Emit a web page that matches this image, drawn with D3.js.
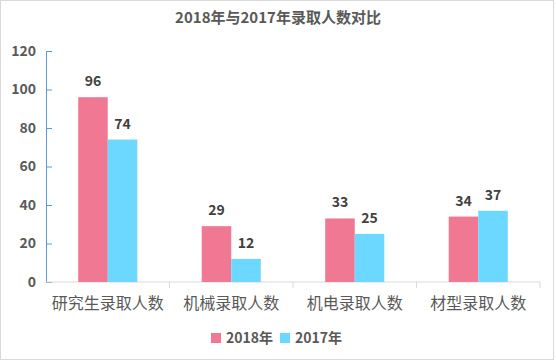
<!DOCTYPE html>
<html>
<head>
<meta charset="utf-8">
<script src="https://cdn.jsdelivr.net/npm/d3@7"></script>
<style>
  body { margin: 0; background: #fff; }
  text { font-family: "Noto Sans CJK SC", "Open Sans", sans-serif; }
</style>
</head>
<body>
<div id="chart"></div>
<script>
const categories = ["研究生录取人数", "机械录取人数", "机电录取人数", "材型录取人数"];
const seriesNames = ["2018年", "2017年"];
const values2018 = [96, 29, 33, 34];
const values2017 = [74, 12, 25, 37];
const yTicks = [0, 20, 40, 60, 80, 100, 120];
const colors = ["#F07893", "#6DD8FF"];

const width = 556;
const height = 362;
const margin = { top: 51, right: 16, bottom: 80, left: 46 };

const svg = d3.select("#chart")
  .append("svg")
  .attr("width", width)
  .attr("height", height);

// border
svg.append("rect")
  .attr("x", 0.5).attr("y", 0.5)
  .attr("width", 553).attr("height", 359)
  .attr("fill", "#fff")
  .attr("stroke", "#d9d9d9");

// title
svg.append("text")
  .attr("x", 278).attr("y", 23)
  .attr("text-anchor", "middle")
  .attr("font-size", 15)
  .attr("font-weight", "bold")
  .attr("fill", "#595959")
  .text("2018年与2017年录取人数对比");

// Scales
const x = d3.scaleBand()
  .domain(categories)
  .range([margin.left, width - margin.right]);

const sub = d3.scaleBand()
  .domain(seriesNames)
  .range([0, x.bandwidth()])
  .paddingInner(0)
  .paddingOuter(1.09);

const y = d3.scaleLinear()
  .domain([0, 120])
  .range([height - margin.bottom, margin.top]);

// Y axis
svg.append("g")
  .attr("transform", `translate(${margin.left},0)`)
  .call(d3.axisRight(y).tickValues(yTicks).tickSize(6).tickFormat(""))
  .call(g => g.selectAll("line, path").attr("stroke", "#5B9BD5"));

svg.append("g")
  .selectAll("text")
  .data(yTicks)
  .join("text")
  .attr("x", 36)
  .attr("y", d => y(d))
  .attr("dy", "0.35em")
  .attr("text-anchor", "end")
  .attr("font-size", 14)
  .attr("font-weight", "bold")
  .attr("fill", "#595959")
  .text(d => d);

// X axis
const xAxis = svg.append("g")
  .attr("transform", `translate(0,${y(0)})`);

xAxis.append("line")
  .attr("x1", margin.left).attr("x2", width - margin.right)
  .attr("stroke", "#d9d9d9");

xAxis.selectAll(".div")
  .data(categories)
  .join("line")
  .attr("class", "div")
  .attr("x1", d => x(d) + x.bandwidth())
  .attr("x2", d => x(d) + x.bandwidth())
  .attr("y1", 0).attr("y2", 6)
  .attr("stroke", "#d9d9d9");

xAxis.selectAll(".lbl")
  .data(categories)
  .join("text")
  .attr("class", "lbl")
  .attr("x", d => x(d) + x.bandwidth() / 2)
  .attr("y", 27)
  .attr("text-anchor", "middle")
  .attr("font-size", 16)
  .attr("fill", "#595959")
  .text(d => d);

// Bars
const rows = categories.map((c, i) => ({
  cat: c,
  vals: [
    { name: seriesNames[0], value: values2018[i], color: colors[0] },
    { name: seriesNames[1], value: values2017[i], color: colors[1] }
  ]
}));

const groups = svg.append("g")
  .selectAll("g")
  .data(rows)
  .join("g")
  .attr("transform", d => `translate(${x(d.cat)},0)`);

groups.selectAll("rect")
  .data(d => d.vals)
  .join("rect")
  .attr("x", d => sub(d.name))
  .attr("y", d => y(d.value))
  .attr("width", sub.bandwidth())
  .attr("height", d => y(0) - y(d.value))
  .attr("fill", d => d.color);

groups.selectAll("text")
  .data(d => d.vals)
  .join("text")
  .attr("x", d => sub(d.name) + sub.bandwidth() / 2)
  .attr("y", d => y(d.value) - 11)
  .attr("text-anchor", "middle")
  .attr("font-size", 14)
  .attr("font-weight", "bold")
  .attr("fill", "#404040")
  .text(d => d.value);

// Legend
const legend = svg.append("g");
const legendX = [211, 280];
seriesNames.forEach((name, i) => {
  legend.append("rect")
    .attr("x", legendX[i]).attr("y", 333)
    .attr("width", 10).attr("height", 10)
    .attr("fill", colors[i]);
  legend.append("text")
    .attr("x", legendX[i] + 15).attr("y", 338)
    .attr("dy", "0.35em")
    .attr("font-size", 14)
    .attr("font-weight", "bold")
    .attr("fill", "#595959")
    .text(name);
});
</script>
</body>
</html>
